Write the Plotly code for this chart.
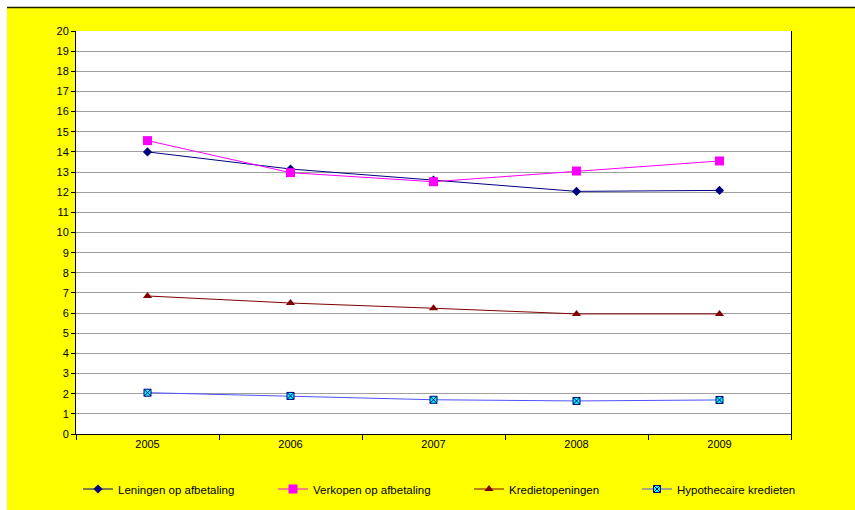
import plotly.graph_objects as go

years = ["2005", "2006", "2007", "2008", "2009"]
leningen = [14.0, 13.15, 12.6, 12.04, 12.09]
verkopen = [14.56, 12.97, 12.52, 13.05, 13.55]
krediet = [6.85, 6.5, 6.24, 5.96, 5.96]
hypo = [2.05, 1.89, 1.70, 1.64, 1.69]
y_ticks = list(range(0, 21))

W, H = 855, 510
L, R, T, B = 76, 64, 31, 76
pw, ph = W - L - R, H - T - B

def px_x(p):
    return (p - L) / pw

def px_y(p):
    return (H - B - p) / ph

fig = go.Figure()
fig.add_trace(go.Scatter(x=years, y=leningen, name="Leningen op afbetaling", mode="lines+markers",
                         line=dict(color="#000080", width=1), legend="legend",
                         marker=dict(symbol="diamond", size=7, color="#000080")))
fig.add_trace(go.Scatter(x=years, y=verkopen, name="Verkopen op afbetaling", mode="lines+markers",
                         line=dict(color="#FF00FF", width=1), legend="legend2",
                         marker=dict(symbol="square", size=9, color="#FF00FF")))
fig.add_trace(go.Scatter(x=years, y=krediet, name="Kredietopeningen", mode="lines+markers",
                         line=dict(color="#800000", width=1), legend="legend3",
                         marker=dict(symbol="triangle-up", size=8, color="#800000")))
fig.add_trace(go.Scatter(x=years, y=hypo, name="Hypothecaire kredieten", mode="lines+markers",
                         line=dict(color="#5050FF", width=1), legend="legend4",
                         marker=dict(symbol="square-x", size=7, color="#00FFFF",
                                     line=dict(color="#000080", width=1))))

def leg(xpx):
    return dict(orientation="h", x=px_x(xpx), y=px_y(489), xanchor="left", yanchor="middle",
                bgcolor="rgba(0,0,0,0)", font=dict(size=11.5), itemclick=False)

fig.update_layout(
    width=W, height=H,
    margin=dict(l=L, r=R, t=T, b=B, pad=0, autoexpand=False),
    paper_bgcolor="#FFFF00",
    plot_bgcolor="#FFFFFF",
    font=dict(family="Liberation Sans, Arial, sans-serif", size=11, color="#000000"),
    xaxis=dict(type="category", range=[-0.5, 4.5], showgrid=False, showline=True,
               linecolor="#000000", linewidth=1, ticks="outside", tickson="boundaries",
               ticklen=5, tickcolor="#000000", tickfont=dict(size=11), fixedrange=True),
    yaxis=dict(range=[0, 20], tickvals=y_ticks, showgrid=True, gridcolor="#A0A0A0",
               gridwidth=1, showline=True, linecolor="#000000", linewidth=1, mirror=True,
               ticks="outside", ticklen=4, tickcolor="#000000", zeroline=False,
               tickfont=dict(size=11)),
    legend=leg(78),
    legend2=leg(273),
    legend3=leg(469),
    legend4=leg(637),
    showlegend=True,
    shapes=[
        dict(type="rect", xref="paper", yref="paper", x0=px_x(-5), x1=px_x(7),
             y0=px_y(520), y1=px_y(-5), fillcolor="#FFFFFF", line=dict(width=0), layer="above"),
        dict(type="rect", xref="paper", yref="paper", x0=px_x(-5), x1=px_x(860),
             y0=px_y(7), y1=px_y(-5), fillcolor="#FFFFFF", line=dict(width=0), layer="above"),
        dict(type="line", xref="paper", yref="paper", x0=px_x(7), x1=px_x(860),
             y0=px_y(7.5), y1=px_y(7.5), line=dict(color="#202000", width=1.5), layer="above"),
    ],
)

fig.write_html("out.html",
               post_script="document.documentElement.style.overflow='hidden';"
                           "document.body.style.overflow='hidden';"
                           "document.body.style.margin='0';")
